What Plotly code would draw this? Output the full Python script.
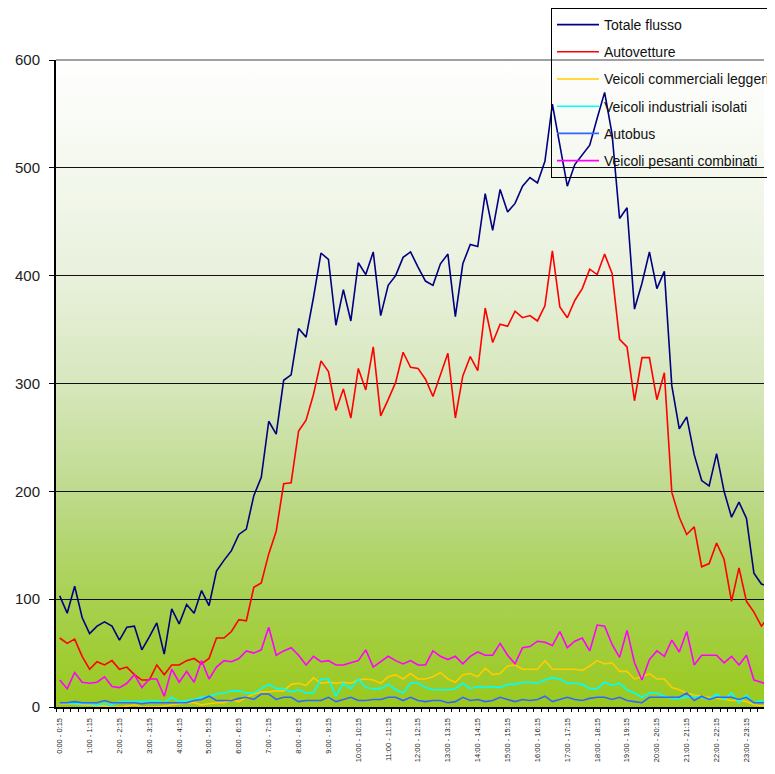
import base64
import plotly.graph_objects as go

# quarter-hour slots, labelled every hour
slots = list(range(96))
hour_ticks = list(range(0, 96, 4))
hour_labels = [f"{h}:00 - {h}:15" for h in range(24)]

totale = [103, 87, 112, 83, 68, 75, 79, 75, 62, 74, 75, 53, 65, 78, 49, 91, 77, 95, 87, 108,
          94, 126, 136, 145, 160, 165, 196, 213, 265, 253, 303, 308, 351, 343, 380, 421,
          415, 354, 387, 358, 412, 401, 422, 363, 391, 400, 417, 422, 408, 395, 391, 411,
          420, 362, 411, 429, 427, 476, 442, 480, 459, 467, 483, 491, 486, 506, 559, 521,
          483, 503, 512, 521, 546, 570, 531, 453, 463, 369, 393, 422, 388, 404, 298, 258,
          269, 234, 210, 205, 235, 200, 176, 190, 175, 124, 114, 112]
autovetture = [64, 59, 63, 47, 35, 42, 39, 43, 35, 37, 30, 25, 25, 39, 30, 39, 39, 43, 45, 40,
               45, 64, 64, 70, 81, 80, 111, 115, 142, 163, 207, 208, 256, 266, 290, 321,
               311, 275, 295, 268, 314, 294, 334, 270, 285, 301, 329, 315, 314, 304, 288, 309,
               328, 268, 307, 325, 312, 370, 338, 355, 353, 367, 361, 363, 358, 372, 423, 371,
               361, 377, 388, 406, 401, 420, 402, 341, 334, 284, 324, 324, 285, 310, 199, 176,
               160, 167, 130, 133, 152, 137, 98, 129, 98, 88, 75, 84]
comm_leggeri = [3, 3, 3, 2, 2, 1, 1, 0, 0, 1, 2, 0, 0, 0, 1, 2, 3, 4, 4, 2,
                3, 4, 4, 7, 5, 9, 12, 14, 14, 15, 15, 21, 22, 20, 27, 22, 23, 22, 23, 22,
                25, 26, 25, 22, 28, 30, 26, 31, 26, 26, 28, 32, 26, 23, 30, 31, 28, 36, 30, 31,
                38, 39, 35, 35, 35, 43, 35, 35, 35, 35, 34, 38, 43, 40, 41, 33, 33, 26, 28, 31,
                26, 26, 18, 16, 13, 11, 10, 9, 8, 7, 6, 6, 5, 2, 1, 1]
ind_isolati = [4, 4, 3, 3, 3, 2, 3, 2, 5, 5, 5, 5, 6, 6, 4, 9, 5, 6, 7, 9,
               10, 12, 13, 15, 15, 13, 13, 17, 21, 17, 17, 14, 16, 13, 13, 26, 26, 10, 22, 17,
               26, 18, 17, 17, 21, 16, 13, 22, 22, 18, 16, 16, 16, 17, 22, 17, 19, 18, 19, 18,
               21, 21, 23, 23, 22, 25, 27, 26, 22, 22, 21, 17, 17, 23, 20, 22, 16, 13, 9, 13,
               13, 10, 8, 8, 9, 10, 9, 7, 12, 7, 13, 4, 11, 4, 6, 4]
autobus = [4, 4, 5, 4, 4, 4, 6, 4, 4, 4, 4, 3, 4, 4, 4, 4, 4, 4, 6, 7,
           10, 6, 6, 6, 8, 9, 7, 12, 12, 7, 9, 9, 5, 6, 6, 6, 9, 5, 7, 9,
           6, 6, 7, 7, 9, 9, 6, 9, 6, 5, 6, 6, 4, 5, 9, 6, 7, 5, 6, 9,
           7, 5, 7, 6, 7, 10, 5, 7, 9, 7, 6, 8, 9, 9, 7, 9, 6, 5, 4, 9,
           9, 9, 9, 9, 13, 6, 10, 7, 9, 9, 9, 7, 9, 4, 4, 4]
pes_combinati = [25, 17, 32, 23, 22, 23, 28, 19, 18, 22, 30, 18, 26, 26, 10, 35, 23, 33, 23, 43,
                 26, 37, 43, 42, 45, 52, 50, 53, 74, 48, 52, 55, 48, 39, 47, 42, 43, 39, 39, 41,
                 43, 53, 37, 42, 47, 43, 40, 43, 39, 39, 52, 47, 44, 47, 40, 47, 51, 48, 48, 59,
                 48, 40, 55, 56, 61, 60, 57, 70, 55, 61, 64, 52, 76, 75, 58, 46, 71, 41, 25, 44,
                 52, 47, 62, 51, 70, 39, 48, 48, 48, 41, 47, 39, 48, 25, 23, 20]

series = [
    ("Totale flusso", totale, "#000080"),
    ("Autovetture", autovetture, "#FF0000"),
    ("Veicoli commerciali leggeri", comm_leggeri, "#FFCC00"),
    ("Veicoli industriali isolati", ind_isolati, "#00FFFF"),
    ("Autobus", autobus, "#3366FF"),
    ("Veicoli pesanti combinati", pes_combinati, "#FF00FF"),
]

# white -> yellow-green gradient for the plot area
svg = ('<svg xmlns="http://www.w3.org/2000/svg" width="10" height="100" preserveAspectRatio="none">'
       '<defs><linearGradient id="g" x1="0" y1="0" x2="0" y2="1">'
       '<stop offset="0" stop-color="#FFFFFF"/>'
       '<stop offset="0.33" stop-color="#E9F1DD"/>'
       '<stop offset="0.5" stop-color="#D7E7BD"/>'
       '<stop offset="0.67" stop-color="#BEDA8C"/>'
       '<stop offset="0.83" stop-color="#A8D152"/>'
       '<stop offset="1" stop-color="#99C91C"/>'
       '</linearGradient></defs><rect width="10" height="100" fill="url(#g)"/></svg>')
bg_uri = "data:image/svg+xml;base64," + base64.b64encode(svg.encode()).decode()

fig = go.Figure()
for name, vals, col in series:
    fig.add_trace(go.Scatter(x=slots, y=vals, name=name, mode="lines",
                             line=dict(color=col, width=1.6), legendgroup=name))

fig.add_layout_image(dict(source=bg_uri, xref="paper", yref="paper", x=0, y=1,
                          sizex=1, sizey=1, sizing="stretch", layer="below"))
fig.add_shape(type="line", xref="paper", yref="paper", x0=0, x1=1, y0=1, y1=1,
              line=dict(color="#808080", width=1.5), layer="above")

fig.update_layout(
    width=767, height=766,
    margin=dict(l=48, r=0, t=51, b=67),
    paper_bgcolor="white", plot_bgcolor="rgba(0,0,0,0)",
    font=dict(family="Liberation Sans, Arial, sans-serif", color="#222222"),
    showlegend=True,
    legend=dict(x=0.6995, y=1.0805, xanchor="left", yanchor="top",
                bgcolor="rgba(255,255,255,0)", bordercolor="black", borderwidth=1,
                font=dict(size=14, color="#111111"), tracegroupgap=6,
                traceorder="grouped", itemwidth=42),
)
fig.update_xaxes(range=[-0.5, 94.35], tickmode="array", tickvals=hour_ticks,
                 ticktext=hour_labels, tickangle=-90, tickfont=dict(size=7.5),
                 ticks="", showgrid=False, zeroline=False,
                 showline=True, linecolor="black", linewidth=2,
                 minor=dict(tick0=-0.5, dtick=1, ticks="outside", ticklen=3,
                            tickcolor="black", showgrid=False),
                 ticklabelstandoff=6)
fig.update_yaxes(range=[0, 600], dtick=100, tickfont=dict(size=15),
                 ticks="outside", ticklen=5, tickcolor="black",
                 showgrid=True, gridcolor="#111111", gridwidth=1.2,
                 zeroline=False, showline=True, linecolor="black", linewidth=2,
                 ticklabelstandoff=6)

fig.write_html("out.html")
